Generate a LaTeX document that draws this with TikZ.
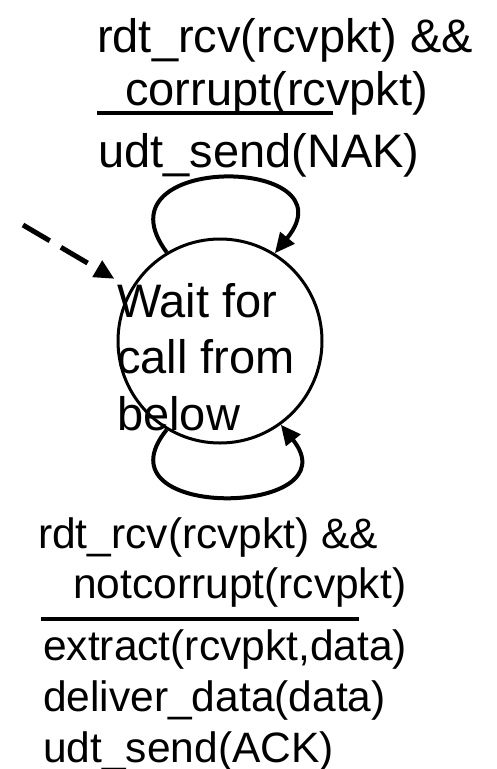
\documentclass[tikz,border=0pt]{standalone}
\usepackage{fontspec}
\setmainfont{Liberation Sans}
\usetikzlibrary{arrows.meta,positioning}

\begin{document}
\begin{tikzpicture}[x=1pt, y=-1pt,
  guardtop/.style={anchor=base west, inner sep=0pt, align=left, font=\fontsize{47}{53}\selectfont},
  guardbot/.style={anchor=base west, inner sep=0pt, align=left, font=\fontsize{42.5}{50}\selectfont},
  actbot/.style={anchor=base west, inner sep=0pt, align=left, font=\fontsize{42.5}{51}\selectfont},
  statelab/.style={anchor=base west, inner sep=0pt, align=left, font=\fontsize{47}{56.5}\selectfont},
  state/.style={circle, draw, line width=3pt, minimum size=204pt, inner sep=0pt},
  selfloop/.style={line width=4pt, -{Triangle[length=20pt, width=18pt]}},
  initarrow/.style={line width=5pt, dash pattern=on 31pt off 13pt, shorten >=19pt, -{Triangle[length=20pt, width=18pt]}},
  sepbar/.style={line width=4.5pt},
]
\useasboundingbox (0,0) rectangle (497,769);

% --- State ---
\node[state] (wait) at (220,341) {};
% (base of a multi-line node = last line)
\node[statelab] (waitlab) at (117,430) {Wait for\\call from\\below};

% --- Initial (dashed) arrow ---
\coordinate (init) at (23,225);
\draw[initarrow] (init) -- (wait);

% --- Top self loop: corrupt packet ---
\node[guardtop] (guardA) at (97,105) {rdt\_rcv(rcvpkt) \&\&\\\hspace{28pt}corrupt(rcvpkt)};
\draw[sepbar] (97,113) -- (333,113);
\node[guardtop] (actA) at (98,167) {udt\_send(NAK)};
\draw[selfloop] (wait.121) .. controls (92,152) and (355,155) .. (wait.58);

% --- Bottom self loop: good packet ---
\draw[selfloop] (wait.-121) .. controls (92,522) and (355,517) .. (wait.-54);
\node[guardbot] (guardB) at (38,598) {rdt\_rcv(rcvpkt) \&\&\\\hspace{35pt}notcorrupt(rcvpkt)};
\draw[sepbar] (41,619) -- (359,619);
\node[actbot] (actB) at (43,762) {extract(rcvpkt,data)\\deliver\_data(data)\\udt\_send(ACK)};

\end{tikzpicture}
\end{document}
